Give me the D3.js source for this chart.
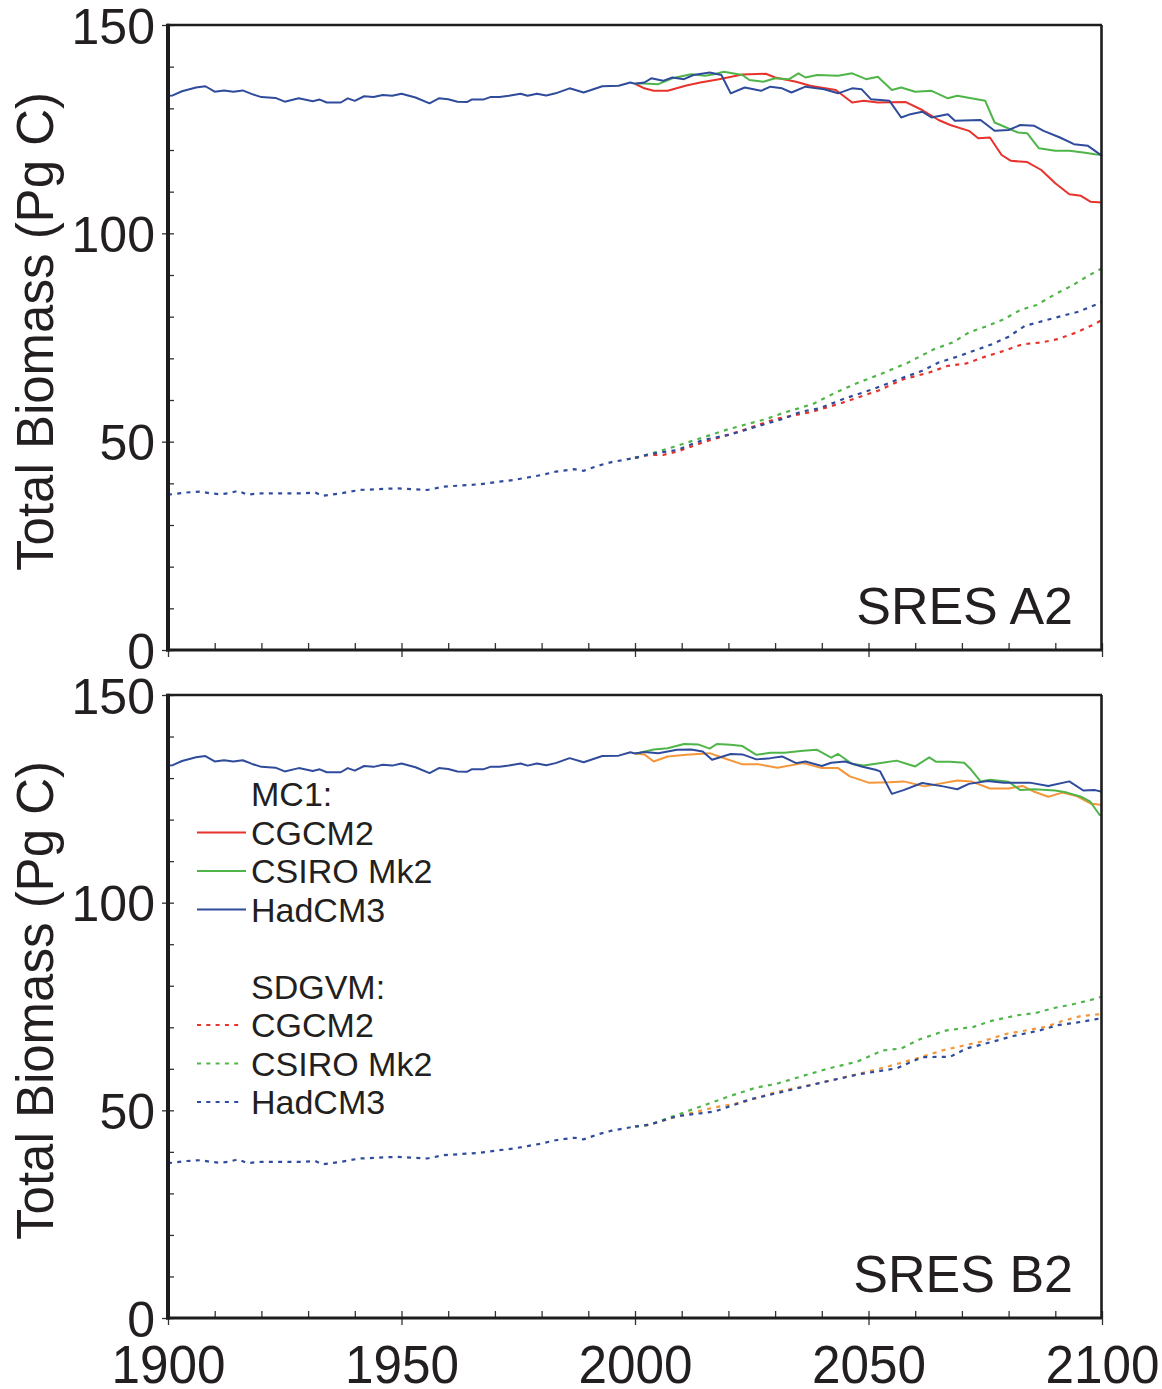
<!DOCTYPE html>
<html>
<head>
<meta charset="utf-8">
<script src="https://cdn.jsdelivr.net/npm/d3@7"></script>
<style>
  html, body { margin: 0; padding: 0; background: #fff; }
  svg { display: block; }
  text { font-family: "Liberation Sans", Arial, Helvetica, sans-serif; fill: #231f20; }
</style>
</head>
<body>
<svg id="chart" width="1162" height="1389"></svg>
<script>
// ---- Data: total biomass (Pg C), historical run and two SRES scenarios ----
const yAxisTicks = [0, 50, 100, 150];
const xAxisTicks = [1900, 1950, 2000, 2050, 2100];

// historical period, identical for all climate models
const histMC1 = [[1900,133.0],[1901,133.1],[1903,134.1],[1906,135.0],[1908,135.3],[1910,134.0],[1912,134.3],[1914,134.0],[1916,134.3],[1918,133.4],[1920,132.7],[1923,132.5],[1925,131.6],[1928,132.4],[1931,131.7],[1932.5,132.1],[1934,131.4],[1937,131.4],[1938.5,132.4],[1940,131.8],[1942,132.9],[1944,132.7],[1946,133.2],[1948,133.0],[1950,133.5],[1953,132.6],[1956,131.2],[1958,132.4],[1960,132.2],[1962,131.6],[1964,131.5],[1965,132.1],[1967.5,132.1],[1969,132.7],[1971,132.7],[1973,133.0],[1975.5,133.5],[1977,133.0],[1979,133.5],[1981,133.1],[1983,133.6],[1986,134.8],[1989,133.8],[1993,135.3],[1996.5,135.4],[1999,136.2],[2000,135.9]];
const histSDGVM = [[1900,37.3],[1901,37.4],[1904,37.8],[1907,38.0],[1909,37.6],[1911,37.4],[1913,37.6],[1915,38.2],[1917,37.3],[1920,37.6],[1925,37.6],[1929,37.6],[1931.5,37.8],[1933,37.0],[1935,37.3],[1937,37.6],[1941,38.4],[1945,38.6],[1949,38.8],[1952,38.6],[1955.5,38.4],[1959,39.2],[1963,39.5],[1967,39.8],[1971,40.4],[1974,40.8],[1977,41.4],[1980,42.0],[1983,42.8],[1987,43.4],[1989,43.0],[1992,44.2],[1995,45.1],[1998,45.7],[2000,46.1]];

// SRES A2
const mc1A2_CGCM2 = [[2000,135.9],[2002,134.8],[2004,134.2],[2007,134.2],[2011,135.5],[2014,136.2],[2018,137.0],[2023,138.1],[2028,138.3],[2030,137.4],[2034.5,136.4],[2037.5,135.4],[2043,134.4],[2046.5,131.4],[2049,131.8],[2052,131.4],[2058,131.5],[2061.5,129.6],[2065,127.2],[2067.5,126.0],[2071.5,124.6],[2073.5,122.8],[2076,123.0],[2078.5,118.8],[2080.5,117.4],[2084,117.1],[2087,115.2],[2090,112.0],[2093,109.4],[2095.5,109.0],[2097.5,107.6],[2100,107.4]];
const mc1A2_CSIRO = [[2000,135.9],[2001,136.0],[2005,135.8],[2008,137.2],[2012,138.2],[2015,137.8],[2017,138.2],[2019,138.8],[2023,138.0],[2024.5,136.8],[2027.5,136.4],[2030,137.2],[2033,137.0],[2035,138.4],[2036.5,137.4],[2039,138.0],[2043.5,137.8],[2046.5,138.4],[2049.5,137.0],[2052,137.6],[2055,134.4],[2057,135.0],[2060,134.0],[2063.5,134.2],[2067,132.4],[2069,133.0],[2072,132.4],[2075,131.8],[2077,126.6],[2079.5,125.4],[2082,124.2],[2084,124.0],[2086.5,120.4],[2090,119.8],[2093,119.8],[2096,119.4],[2098.5,119.0],[2100,118.8]];
const mc1A2_HadCM3 = [[2000,135.9],[2002,136.2],[2003.5,137.2],[2006,136.6],[2008,137.4],[2010.5,137.0],[2012.5,138.0],[2016,138.6],[2018.5,138.0],[2020.5,133.6],[2023.5,135.0],[2027,134.2],[2029,135.2],[2031.5,134.8],[2033.5,133.8],[2036.5,135.2],[2040.5,134.6],[2043.5,133.6],[2046.5,134.8],[2048.5,134.6],[2050.5,132.2],[2054.5,131.8],[2057,127.8],[2059,128.6],[2061.5,129.2],[2063.5,127.8],[2067,128.6],[2068.5,127.0],[2074,127.2],[2077,124.6],[2080,124.8],[2082.5,126.0],[2085.5,125.8],[2087.5,124.6],[2091,123.0],[2094,121.4],[2097,121.0],[2100,118.6]];
const sdgvmA2_CGCM2 = [[2000,46.1],[2003,46.8],[2006,46.8],[2009,47.6],[2015,50.0],[2022.5,52.5],[2030,55.4],[2038,57.2],[2044,59.2],[2052,62.2],[2057.5,65.0],[2063,66.6],[2067,68.2],[2071,68.8],[2075,70.4],[2079,71.8],[2083,73.4],[2087,73.8],[2090.5,74.6],[2094.5,76.2],[2098,78.0],[2100,79.2]];
const sdgvmA2_CSIRO = [[2000,46.1],[2003,47.0],[2006,48.0],[2009,49.0],[2014.5,51.0],[2020,53.0],[2028,55.4],[2032,57.0],[2038,59.0],[2043,61.8],[2047,63.8],[2053,66.4],[2058.5,69.0],[2064,72.2],[2068,73.8],[2071.5,76.2],[2075,77.6],[2079,79.4],[2082.5,81.6],[2086,82.8],[2090,85.4],[2093.5,87.4],[2097,89.8],[2100,91.6]];
const sdgvmA2_HadCM3 = [[2000,46.1],[2003,47.0],[2009,48.0],[2014.5,50.4],[2020,51.6],[2026,53.6],[2032,55.6],[2035.5,57.2],[2039.5,58.0],[2045,60.4],[2051,62.6],[2056.5,65.0],[2061.5,67.0],[2065,69.0],[2069,70.4],[2073,72.0],[2076.5,73.4],[2080,75.2],[2083.5,77.8],[2087.5,79.0],[2091.5,80.2],[2095,81.2],[2099,83.0],[2100,83.6]];

// SRES B2
const mc1B2_CGCM2 = [[2000,135.9],[2002,135.7],[2004,134.0],[2007,135.2],[2011,135.6],[2016,136.0],[2018,135.2],[2023,133.3],[2026.5,133.3],[2030.5,132.5],[2036,133.6],[2040,132.4],[2043.5,132.4],[2046,130.4],[2050,128.9],[2054.5,129.0],[2057.5,129.2],[2062,128.0],[2065,128.6],[2069,129.4],[2072,129.2],[2076,127.5],[2080,127.5],[2083,128.1],[2085.5,126.7],[2088.5,125.5],[2091.5,126.5],[2094.5,125.7],[2097.5,123.9],[2100,123.5]];
const mc1B2_CSIRO = [[2000,135.9],[2001,136.1],[2004,136.9],[2007,137.2],[2010.5,138.2],[2013.5,138.1],[2016,137.1],[2017.5,138.2],[2020.5,138.0],[2023,137.7],[2026,135.6],[2029,136.1],[2032,136.1],[2036,136.6],[2039,136.8],[2042,134.9],[2043.5,135.8],[2046.5,133.4],[2049,133.0],[2053,133.7],[2056,134.2],[2060,132.8],[2063,135.0],[2064.5,133.9],[2067.5,133.9],[2070.5,133.7],[2072,132.0],[2074,129.2],[2076,129.6],[2080,129.1],[2082.5,127.1],[2085.5,127.3],[2090,127.0],[2092.5,126.5],[2095.5,125.5],[2097.5,124.3],[2099.5,121.1],[2100,121.1]];
const mc1B2_HadCM3 = [[2000,135.9],[2002,136.3],[2005,136.0],[2009,136.8],[2012,136.9],[2014.5,136.4],[2016.5,134.4],[2020.5,135.8],[2023,135.7],[2026,134.5],[2029,134.8],[2031.5,135.2],[2034.5,133.6],[2036.5,134.0],[2040,132.9],[2042,133.7],[2045,134.0],[2048.5,132.8],[2051.5,132.0],[2052.5,131.6],[2055,126.2],[2057.5,127.1],[2061.5,128.8],[2066,128.0],[2069,127.3],[2071.5,128.6],[2075.5,129.3],[2079,128.9],[2084.5,128.9],[2088.5,128.1],[2093,129.2],[2096,127.0],[2098.5,127.1],[2100,126.7]];
const sdgvmB2_CGCM2 = [[2000,46.1],[2003,46.5],[2009,48.5],[2017,50.7],[2023,51.9],[2030.5,54.5],[2038.5,56.3],[2046.5,58.4],[2054,60.5],[2060,62.4],[2066,64.5],[2070,65.5],[2074,66.5],[2079.5,68.4],[2084,69.3],[2088,70.1],[2091.5,71.5],[2095.5,72.7],[2100,73.2]];
const sdgvmB2_CSIRO = [[2000,46.1],[2003,46.5],[2009,48.9],[2014.5,51.1],[2020,53.3],[2026,55.5],[2030,56.3],[2036,58.3],[2041.5,60.1],[2047.5,61.7],[2053,64.4],[2057,64.9],[2061,67.1],[2066.5,69.2],[2072.5,70.1],[2076.5,71.6],[2082,72.9],[2086,73.5],[2090,74.7],[2094,75.6],[2098,76.7],[2100,77.4]];
const sdgvmB2_HadCM3 = [[2000,46.1],[2003,46.5],[2009,48.6],[2017,49.7],[2024.5,52.6],[2032.5,54.7],[2040,56.7],[2048,58.7],[2056,60.1],[2061.5,62.8],[2067.5,62.9],[2071,64.9],[2076.5,66.5],[2081,67.9],[2086.5,69.2],[2090.5,70.5],[2094.5,71.1],[2098.5,71.9],[2100,72.2]];

const legendModels = ["CGCM2", "CSIRO Mk2", "HadCM3"];
const legendGroups = ["MC1:", "SDGVM:"];

// ---- Styling ----
const C = { red: "#e8322c", green: "#4fb548", blue: "#2f4b9b", orange: "#f5963a", ink: "#231f20" };
const DOT = "4,5.3";

const svg = d3.select("#chart");
const x = d3.scaleLinear().domain([1900, 2100]).range([168, 1102]);

const panels = [
  { top: 25, bottom: 650, label: "SRES A2",
    solid: [[mc1A2_CGCM2, C.red], [mc1A2_CSIRO, C.green], [mc1A2_HadCM3, C.blue]],
    dotted: [[sdgvmA2_CGCM2, C.red], [sdgvmA2_CSIRO, C.green], [sdgvmA2_HadCM3, C.blue]] },
  { top: 695, bottom: 1318, label: "SRES B2", xLabels: true, legend: true,
    solid: [[mc1B2_CGCM2, C.orange], [mc1B2_CSIRO, C.green], [mc1B2_HadCM3, C.blue]],
    dotted: [[sdgvmB2_CGCM2, C.orange], [sdgvmB2_CSIRO, C.green], [sdgvmB2_HadCM3, C.blue]] }
];

panels.forEach(p => {
  const y = d3.scaleLinear().domain([0, 150]).range([p.bottom, p.top]);
  const g = svg.append("g");
  const line = d3.line().x(d => x(d[0])).y(d => y(d[1]));

  // dotted SDGVM series
  const drawDotted = (data, col) => g.append("path").datum(data).attr("d", line)
    .attr("fill", "none").attr("stroke", col).attr("stroke-width", 2.2).attr("stroke-dasharray", DOT);
  p.dotted.forEach(([d, c]) => drawDotted(d, c));
  drawDotted(histSDGVM, C.blue);

  // solid MC1 series
  const drawSolid = (data, col) => g.append("path").datum(data).attr("d", line)
    .attr("fill", "none").attr("stroke", col).attr("stroke-width", 2).attr("stroke-linejoin", "round");
  p.solid.forEach(([d, c]) => drawSolid(d, c));
  drawSolid(histMC1, C.blue);

  // minor y ticks (inside)
  const minorY = d3.range(0, 151, 10).filter(v => v % 50 !== 0);
  g.append("g").attr("transform", `translate(168,0)`)
    .call(d3.axisLeft(y).tickValues(minorY).tickSize(-6).tickFormat(""))
    .call(a => a.select(".domain").remove())
    .selectAll("line").attr("stroke", "#333").attr("stroke-width", 1.3);
  // major y ticks (crossing) with labels
  const yAx = g.append("g").attr("transform", `translate(168,0)`)
    .call(d3.axisLeft(y).tickValues(yAxisTicks).tickSize(6).tickPadding(7).tickFormat(d3.format("d")))
    .call(a => a.select(".domain").remove());
  yAx.selectAll("line").attr("x1", 6).attr("stroke", "#333").attr("stroke-width", 1.3);
  yAx.selectAll("text").attr("font-size", 50).attr("fill", C.ink)
    .attr("font-family", "'Liberation Sans', Arial, sans-serif").attr("dy", "0.36em");

  // minor x ticks (inside)
  const minorX = d3.range(1900, 2101, 10).filter(v => v % 50 !== 0);
  g.append("g").attr("transform", `translate(0,${p.bottom})`)
    .call(d3.axisBottom(x).tickValues(minorX).tickSize(-7).tickFormat(""))
    .call(a => a.select(".domain").remove())
    .selectAll("line").attr("stroke", "#333").attr("stroke-width", 1.3);
  const xAx = g.append("g").attr("transform", `translate(0,${p.bottom})`)
    .call(d3.axisBottom(x).tickValues(xAxisTicks).tickSize(7).tickPadding(20)
      .tickFormat(p.xLabels ? d3.format("d") : ""))
    .call(a => a.select(".domain").remove());
  xAx.selectAll("line").attr("y1", -7).attr("stroke", "#333").attr("stroke-width", 1.3);
  xAx.selectAll("text").attr("font-size", 54).attr("fill", C.ink)
    .attr("font-family", "'Liberation Sans', Arial, sans-serif")
    .attr("textLength", 114).attr("lengthAdjust", "spacingAndGlyphs");

  // frame
  const frame = (x1, y1, x2, y2, w) => g.append("line").attr("x1", x1).attr("y1", y1).attr("x2", x2).attr("y2", y2)
    .attr("stroke", "#1d1d1d").attr("stroke-width", w);
  frame(167, p.top, 1102, p.top, 2.6);
  frame(1101.5, p.top, 1101.5, p.bottom, 2.6);
  frame(166, p.bottom, 1102, p.bottom, 3);
  frame(168, p.top - 1.3, 168, p.bottom + 1.5, 4);

  // axis title
  g.append("text")
    .attr("transform", `translate(53,${(p.top + p.bottom) / 2 - 6}) rotate(-90)`)
    .attr("text-anchor", "middle").attr("font-size", 51)
    .text("Total Biomass (Pg C)");

  // scenario label
  g.append("text").attr("x", 1073).attr("y", p.bottom - 26)
    .attr("text-anchor", "end").attr("font-size", 52).text(p.label);

  if (p.legend) {
    const lg = svg.append("g");
    const rowY = 806, step = 38.5;
    const legendColors = [C.red, C.green, C.blue];
    legendGroups.forEach((grp, gi) => {
      const base = rowY + gi * 5 * step;
      lg.append("text").attr("x", 251).attr("y", base).attr("font-size", 34).text(grp);
      legendModels.forEach((m, i) => {
        const ty = base + (i + 1) * step;
        lg.append("line").attr("x1", 197).attr("x2", gi === 0 ? 246 : 242)
          .attr("y1", ty - 12).attr("y2", ty - 12)
          .attr("stroke", legendColors[i]).attr("stroke-width", 2)
          .attr("stroke-dasharray", gi === 0 ? null : DOT);
        lg.append("text").attr("x", 251).attr("y", ty).attr("font-size", 34).text(m);
      });
    });
  }
});
</script>
</body>
</html>
